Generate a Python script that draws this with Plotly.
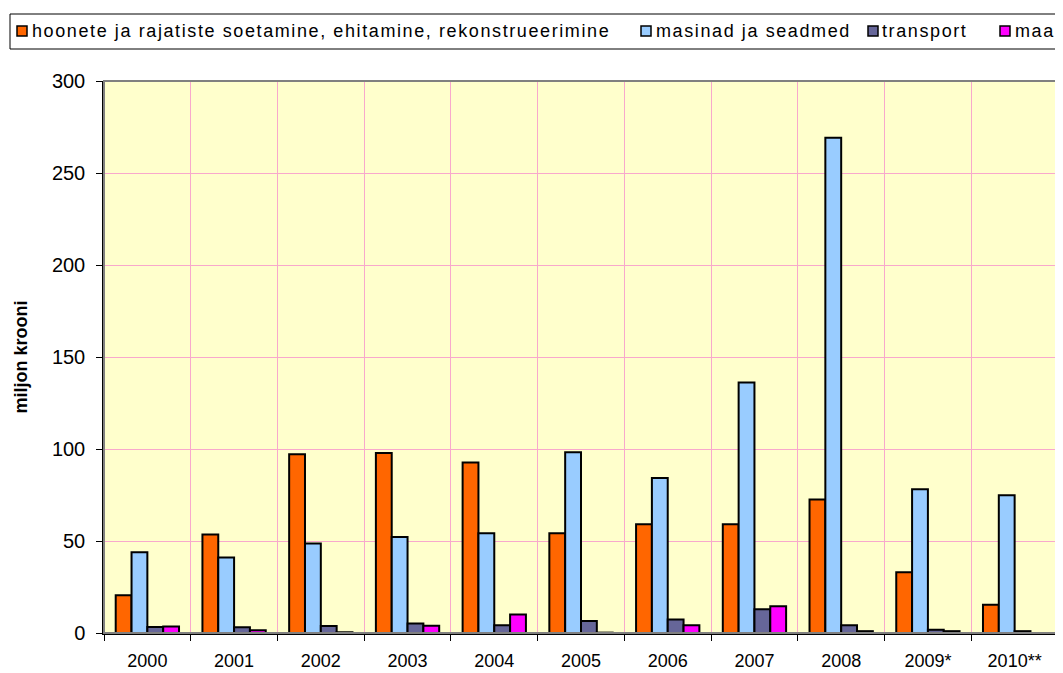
import plotly.graph_objects as go

years = ["2000", "2001", "2002", "2003", "2004", "2005", "2006", "2007", "2008", "2009*", "2010**"]
hoonete = [20.5, 53.5, 97.1, 97.8, 92.6, 54.2, 59.1, 59.1, 72.5, 33.0, 15.4]
masinad = [43.9, 41.1, 48.6, 52.2, 54.2, 98.2, 84.2, 136.1, 269.2, 78.1, 74.8]
transport = [3.3, 3.1, 3.8, 5.1, 4.2, 6.5, 7.4, 12.9, 4.2, 1.8, 1.0]
maa = [3.6, 1.5, 0.4, 4.0, 10.0, 0.2, 4.2, 14.5, 1.0, 1.0, 0.0]

series_names = ["hoonete ja rajatiste soetamine, ehitamine, rekonstrueerimine",
                "masinad ja seadmed", "transport", "maa"]
series_values = [hoonete, masinad, transport, maa]
series_colors = ["#FF6600", "#99CCFF", "#666699", "#FF00FF"]

# The page body has an 8px margin, so the figure is placed at (8, 8) in the window.
OFF = 8
W, H = 1063 - OFF, 673 - OFF
ML, MR, MT, MB = 104 - OFF, 5, 81 - OFF, 40
PW, PH = W - ML - MR, H - MT - MB

def px(xp):
    # window pixel x -> paper coordinate
    return (xp - OFF - ML) / PW

def py(yp):
    # window pixel y -> paper coordinate
    return (H - MB - (yp - OFF)) / PH

font_family = "Liberation Sans, Arial, sans-serif"

fig = go.Figure()
for name, vals, col in zip(series_names, series_values, series_colors):
    fig.add_trace(go.Bar(
        x=years, y=vals, name=name, showlegend=False,
        marker=dict(color=col, line=dict(color="black", width=2)),
    ))

# Legend (box with swatches and text, cut off at the right like the reference)
legend_swatch_x = [17, 641, 868, 1000]
legend_text_x = [30, 654, 880, 1013]
legend_y = 31
shapes = [
    dict(type="rect", xref="paper", yref="paper",
         x0=px(10), x1=px(1075), y0=py(49), y1=py(14),
         line=dict(color="black", width=1), fillcolor="white", layer="above"),
]
annotations = []
for name, col, sx, tx in zip(series_names, series_colors, legend_swatch_x, legend_text_x):
    shapes.append(dict(type="rect", xref="paper", yref="paper",
                       x0=px(sx), x1=px(sx + 10), y0=py(legend_y + 5), y1=py(legend_y - 5),
                       line=dict(color="black", width=1.5), fillcolor=col, layer="above"))
    annotations.append(dict(
        xref="paper", yref="paper", x=px(tx), y=py(legend_y),
        xanchor="left", yanchor="middle", showarrow=False,
        text='<span style="letter-spacing:1.6px">' + name + '</span>',
        font=dict(family=font_family, size=18, color="black"),
    ))

# plot area border
shapes.append(dict(type="rect", xref="paper", yref="paper", x0=0, x1=1, y0=0, y1=1,
                   line=dict(color="#808080", width=2), fillcolor="rgba(0,0,0,0)", layer="above"))

fig.update_layout(
    width=W, height=H,
    margin=dict(l=ML, r=MR, t=MT, b=MB, autoexpand=False),
    paper_bgcolor="white",
    plot_bgcolor="#FFFFCC",
    barmode="group",
    bargap=0.27,
    bargroupgap=0,
    font=dict(family=font_family, size=17, color="black"),
    showlegend=False,
    xaxis=dict(
        type="category",
        tickson="boundaries",
        showgrid=True, gridcolor="#F8A8CC", gridwidth=1,
        ticks="outside", ticklen=6, tickcolor="black", tickwidth=1,
        showline=True, linecolor="black", linewidth=1.5,
        tickfont=dict(family=font_family, size=18, color="black"),
        ticklabelstandoff=11,
        automargin=False,
    ),
    yaxis=dict(
        range=[0, 300], dtick=50,
        showgrid=True, gridcolor="#F8A8CC", gridwidth=1,
        ticks="outside", ticklen=6, tickcolor="black", tickwidth=1,
        showline=True, linecolor="black", linewidth=1.5,
        zeroline=False,
        tickfont=dict(family=font_family, size=20, color="black"),
        ticklabelstandoff=7,
        title=dict(text="<b>miljon krooni</b>", font=dict(family=font_family, size=18, color="black"), standoff=20),
        automargin=False,
    ),
    shapes=shapes,
    annotations=annotations,
)

fig.write_html("out.html")
